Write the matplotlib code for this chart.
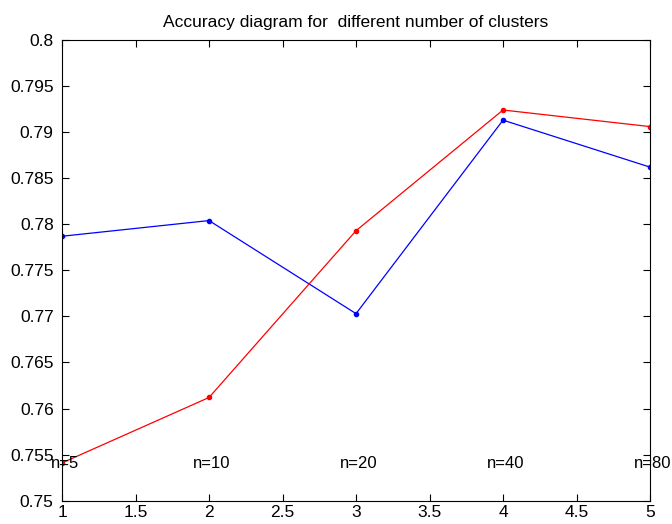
import matplotlib
matplotlib.use("Agg")
import matplotlib.pyplot as plt

# Accuracy for each clustering setting
x_pos = [1, 2, 3, 4, 5]
acc_blue = [0.7787, 0.7804, 0.7703, 0.7913, 0.7862]
acc_red = [0.7541, 0.7612, 0.7793, 0.7924, 0.7906]
cluster_labels = ["n=5", "n=10", "n=20", "n=40", "n=80"]
label_level = 0.754

x_ticks = [1, 1.5, 2, 2.5, 3, 3.5, 4, 4.5, 5]
x_ticklabels = ["1", "1.5", "2", "2.5", "3", "3.5", "4", "4.5", "5"]
y_ticks = [0.75, 0.755, 0.76, 0.765, 0.77, 0.775, 0.78, 0.785, 0.79, 0.795, 0.8]
y_ticklabels = ["0.75", "0.755", "0.76", "0.765", "0.77", "0.775", "0.78",
                "0.785", "0.79", "0.795", "0.8"]

plt.rcParams["font.family"] = ["Liberation Sans", "DejaVu Sans"]

fig = plt.figure(figsize=(6.72, 5.24), dpi=100)
ax = fig.add_axes([0.0923, 0.0445, 0.8750, 0.8792])

ax.plot(x_pos, acc_blue, color="#0000ff", lw=0.9, marker=".", ms=6)
ax.plot(x_pos, acc_red, color="#ff0000", lw=0.9, marker=".", ms=6)

for xp, lab in zip(x_pos, cluster_labels):
    ax.text(xp + 0.02, label_level, lab, ha="center", va="center",
            fontsize=12, color="black")

ax.set_xlim(1, 5)
ax.set_ylim(0.75, 0.8)
ax.set_xticks(x_ticks)
ax.set_xticklabels(x_ticklabels)
ax.set_yticks(y_ticks)
ax.set_yticklabels(y_ticklabels)
ax.tick_params(direction="in", length=5, width=0.8, top=True, right=True,
               labelsize=12.5)
ax.tick_params(axis="x", pad=3)
ax.tick_params(axis="y", pad=6)
for sp in ax.spines.values():
    sp.set_linewidth(0.8)

ax.set_title("Accuracy diagram for  different number of clusters",
             fontsize=12.5, pad=9)

fig.savefig("out.png", dpi=100, facecolor="white")
